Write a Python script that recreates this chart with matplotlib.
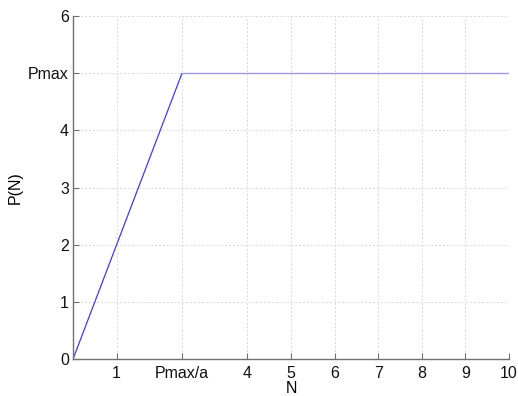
import matplotlib
matplotlib.use("Agg")
import matplotlib.pyplot as plt

plt.rcParams['font.family'] = ['Liberation Sans', 'DejaVu Sans']

rise_x = [0, 2.5]
rise_y = [0, 5]
plateau_x = [2.5, 10]
plateau_y = [5, 5]

xticks = [1, 2.5, 4, 5, 6, 7, 8, 9, 10]
xticklabels = ['1', 'Pmax/a', '4', '5', '6', '7', '8', '9', '10']
yticks = [0, 1, 2, 3, 4, 5, 6]
yticklabels = ['0', '1', '2', '3', '4', 'Pmax', '6']

fig = plt.figure(figsize=(5.18, 3.96), dpi=100)
ax = fig.add_axes([0.141, 0.0934, 0.8416, 0.8662])

ax.plot(rise_x, rise_y, color='#3a3aff', lw=0.9, solid_capstyle='butt')
ax.plot(plateau_x, plateau_y, color='#9a9aee', lw=1.0, solid_capstyle='butt')

ax.set_xlim(0, 10)
ax.set_ylim(0, 6)
ax.set_xticks(xticks)
ax.set_xticklabels(xticklabels)
ax.set_yticks(yticks)
ax.set_yticklabels(yticklabels)

ax.grid(True, color='#d8d8d8', linestyle=(0, (2, 2)), lw=0.7)
ax.set_axisbelow(True)

for s in ['top', 'right']:
    ax.spines[s].set_visible(False)
for s in ['left', 'bottom']:
    ax.spines[s].set_color('#707070')
    ax.spines[s].set_linewidth(1.0)

ax.tick_params(direction='in', length=4, width=0.8, color='#707070',
               labelsize=11.5, labelcolor='#111111')
ax.tick_params(axis='x', pad=5)
ax.tick_params(axis='y', pad=3)

ax.set_xlabel('N', fontsize=11.5, labelpad=0)
ax.set_ylabel('P(N)', fontsize=11.5, labelpad=4)

fig.savefig('out.png', dpi=100)
